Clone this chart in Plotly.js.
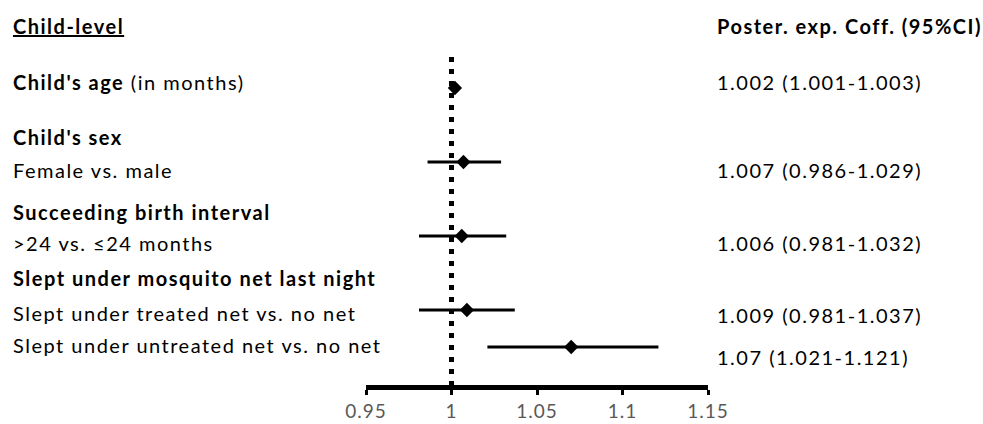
<!DOCTYPE html>
<html>
<head>
<meta charset="utf-8">
<script src="https://cdn.plot.ly/plotly-3.0.1.min.js"></script>
<style>
html,body{margin:0;padding:0;background:#fff;}
#chart{width:983px;height:424px;}
#chart .annotation-text{letter-spacing:1.5px;}
#chart .xtick text{letter-spacing:1px;}
</style>
</head>
<body>
<div id="chart"></div>
<script>
// ---- data ----
var headerLeft = "Child-level";
var headerRight = "Poster. exp. Coff. (95%CI)";
var groupLabels = ["<b>Child's age</b> (in months)", "<b>Child's sex</b>", "<b>Succeeding birth interval</b>", "<b>Slept under mosquito net last night</b>"];
var itemLabels = ["Female vs. male", ">24 vs. ≤24 months", "Slept under treated net vs. no net", "Slept under untreated net vs. no net"];
var estimates = [1.002, 1.007, 1.006, 1.009, 1.07];
var lowerCI = [1.001, 0.986, 0.981, 0.981, 1.021];
var upperCI = [1.003, 1.029, 1.032, 1.037, 1.121];
var ciText = ["1.002 (1.001-1.003)", "1.007 (0.986-1.029)", "1.006 (0.981-1.032)", "1.009 (0.981-1.037)", "1.07 (1.021-1.121)"];
var tickVals = [0.95, 1, 1.05, 1.1, 1.15];
var tickText = ["0.95", "1", "1.05", "1.1", "1.15"];

// ---- layout positions (pixel rows, top = 0) ----
var W = 983, H = 424, axisY = 385;
var markerRows = [88, 162, 236, 310, 347];
var groupRows = [82, 137, 212, 278];
var itemRows = [170, 243, 313, 345];
var ciRows = [82, 170, 243, 315, 357];
var headerRow = 26;
var FONT = "Lato, 'Open Sans', sans-serif";

var annotations = [];
function addText(txt, px, py, size, bold) {
  annotations.push({
    text: bold ? "<b>" + txt + "</b>" : txt,
    xref: "paper", yref: "y", x: px / W, y: py,
    xanchor: "left", yanchor: "middle", align: "left", showarrow: false,
    font: {family: FONT, size: size, color: "#000"}
  });
}
addText("<u>" + headerLeft + "</u>", 11, headerRow, 20, true);
addText(headerRight, 715, headerRow, 20, true);
groupLabels.forEach(function (t, i) { addText(t, 11, groupRows[i], 20, false); });
itemLabels.forEach(function (t, i) { addText(t, 11, itemRows[i], 20, false); });
ciText.forEach(function (t, i) { addText(t, 715, ciRows[i], 20, false); });

var trace = {
  type: "scatter", mode: "markers",
  x: estimates, y: markerRows,
  marker: {symbol: "diamond", size: 11, color: "#000"},
  error_x: {
    type: "data", symmetric: false,
    array: estimates.map(function (e, i) { return upperCI[i] - e; }),
    arrayminus: estimates.map(function (e, i) { return e - lowerCI[i]; }),
    thickness: 3, width: 0, color: "#000"
  },
  hoverinfo: "skip", showlegend: false, cliponaxis: false
};

var layout = {
  width: W, height: H,
  margin: {l: 0, r: 0, t: 0, b: 0, pad: 0},
  paper_bgcolor: "#fff", plot_bgcolor: "#fff",
  xaxis: {
    domain: [366 / W, 708 / W], range: [0.95, 1.15],
    showgrid: false, zeroline: false,
    showline: true, linecolor: "#000", linewidth: 5,
    ticks: "outside", ticklen: 5, tickwidth: 3, tickcolor: "#000",
    tickvals: tickVals, ticktext: tickText,
    tickfont: {family: FONT, size: 19, color: "#595959"},
    ticklabelstandoff: 0, fixedrange: true
  },
  yaxis: {
    domain: [(H - axisY) / H, 1], range: [axisY, 0],
    visible: false, showgrid: false, zeroline: false, fixedrange: true
  },
  shapes: [{
    type: "line", xref: "x", yref: "y", x0: 1, x1: 1, y0: 57, y1: axisY,
    line: {color: "#000", width: 5, dash: "5px,7px"}, layer: "below"
  }],
  annotations: annotations
};

Plotly.newPlot("chart", [trace], layout, {displayModeBar: false, staticPlot: true});
</script>
</body>
</html>
